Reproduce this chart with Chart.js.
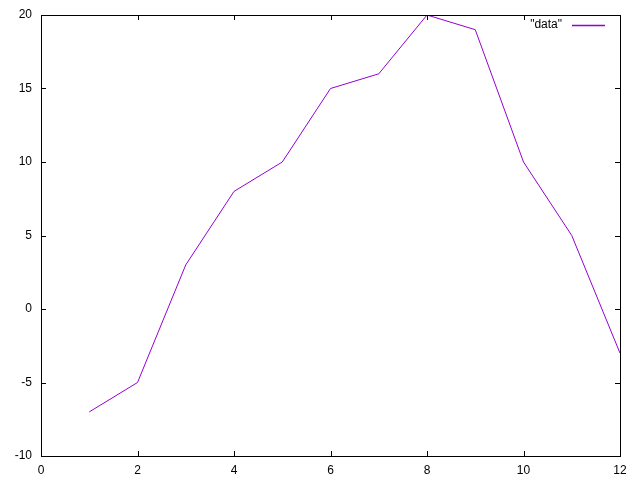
<!DOCTYPE html>
<html lang="en">
<head>
    <meta charset="UTF-8">
    <title>data</title>
    <script src="https://cdn.jsdelivr.net/npm/chart.js"></script>
    <style>
        body { margin: 0; padding: 0; background: #fff; }
        canvas { display: block; }
    </style>
</head>
<body>
    <canvas id="chart" width="640" height="480"></canvas>
    <script>
        const xValues = [1, 2, 3, 4, 5, 6, 7, 8, 9, 10, 11, 12];
        const yValues = [-7, -5, 3, 8, 10, 15, 16, 20, 19, 10, 5, -3];
        const xTicks = [0, 2, 4, 6, 8, 10, 12];
        const yTicks = [-10, -5, 0, 5, 10, 15, 20];
        const seriesName = '"data"';

        // gnuplot style frame: border plus inward ticks on all four sides
        const framePlugin = {
            id: 'frame',
            afterDatasetsDraw(chart) {
                const ctx = chart.ctx;
                const a = chart.chartArea;
                const xs = chart.scales.x, ys = chart.scales.y;
                const len = 5;
                ctx.save();
                ctx.strokeStyle = '#000';
                ctx.lineWidth = 1;
                ctx.beginPath();
                xTicks.forEach(v => {
                    const px = Math.round(xs.getPixelForValue(v)) + 0.5;
                    ctx.moveTo(px, a.bottom); ctx.lineTo(px, a.bottom - len);
                    ctx.moveTo(px, a.top); ctx.lineTo(px, a.top + len);
                });
                yTicks.forEach(v => {
                    const py = Math.round(ys.getPixelForValue(v)) + 0.5;
                    ctx.moveTo(a.left, py); ctx.lineTo(a.left + len, py);
                    ctx.moveTo(a.right, py); ctx.lineTo(a.right - len, py);
                });
                ctx.stroke();
                ctx.strokeRect(Math.round(a.left) + 0.5, Math.round(a.top) + 0.5,
                    Math.round(a.right - a.left), Math.round(a.bottom - a.top));

                // key in the top right corner
                const ds = chart.data.datasets[0];
                const ky = Math.round(a.top) + 10;
                ctx.font = '12px "Liberation Sans", Arial, sans-serif';
                ctx.fillStyle = '#000';
                ctx.textAlign = 'right';
                ctx.textBaseline = 'middle';
                ctx.fillText(ds.label, Math.round(a.right) - 58, ky);
                ctx.strokeStyle = ds.borderColor;
                ctx.lineWidth = 1.5;
                ctx.beginPath();
                ctx.moveTo(Math.round(a.right) - 48, ky + 0.5);
                ctx.lineTo(Math.round(a.right) - 15, ky + 0.5);
                ctx.stroke();
                ctx.restore();
            }
        };

        new Chart(document.getElementById('chart'), {
            type: 'line',
            data: {
                datasets: [{
                    label: seriesName,
                    data: xValues.map((x, i) => ({ x: x, y: yValues[i] })),
                    borderColor: '#9400d3',
                    borderWidth: 1,
                    pointRadius: 0,
                    tension: 0,
                    fill: false
                }]
            },
            options: {
                responsive: false,
                animation: false,
                layout: { padding: { top: 15, right: 20, left: 0, bottom: 0 } },
                plugins: { legend: { display: false }, tooltip: { enabled: false } },
                scales: {
                    x: {
                        type: 'linear',
                        min: 0, max: 12,
                        afterBuildTicks: s => { s.ticks = xTicks.map(v => ({ value: v })); },
                        afterFit: s => { s.height = 24; s.paddingLeft = 0; s.paddingRight = 0; },
                        grid: { display: false, drawTicks: false },
                        border: { display: false },
                        ticks: { color: '#000', padding: 7, maxRotation: 0,
                            font: { family: '"Liberation Sans", Arial, sans-serif', size: 12 } }
                    },
                    y: {
                        type: 'linear',
                        min: -10, max: 20,
                        afterBuildTicks: s => { s.ticks = yTicks.map(v => ({ value: v })); },
                        afterFit: s => { s.width = 41; s.paddingTop = 0; s.paddingBottom = 0; },
                        grid: { display: false, drawTicks: false },
                        border: { display: false },
                        ticks: { color: '#000', padding: 9,
                            font: { family: '"Liberation Sans", Arial, sans-serif', size: 12 } }
                    }
                }
            },
            plugins: [framePlugin]
        });
    </script>
</body>
</html>
